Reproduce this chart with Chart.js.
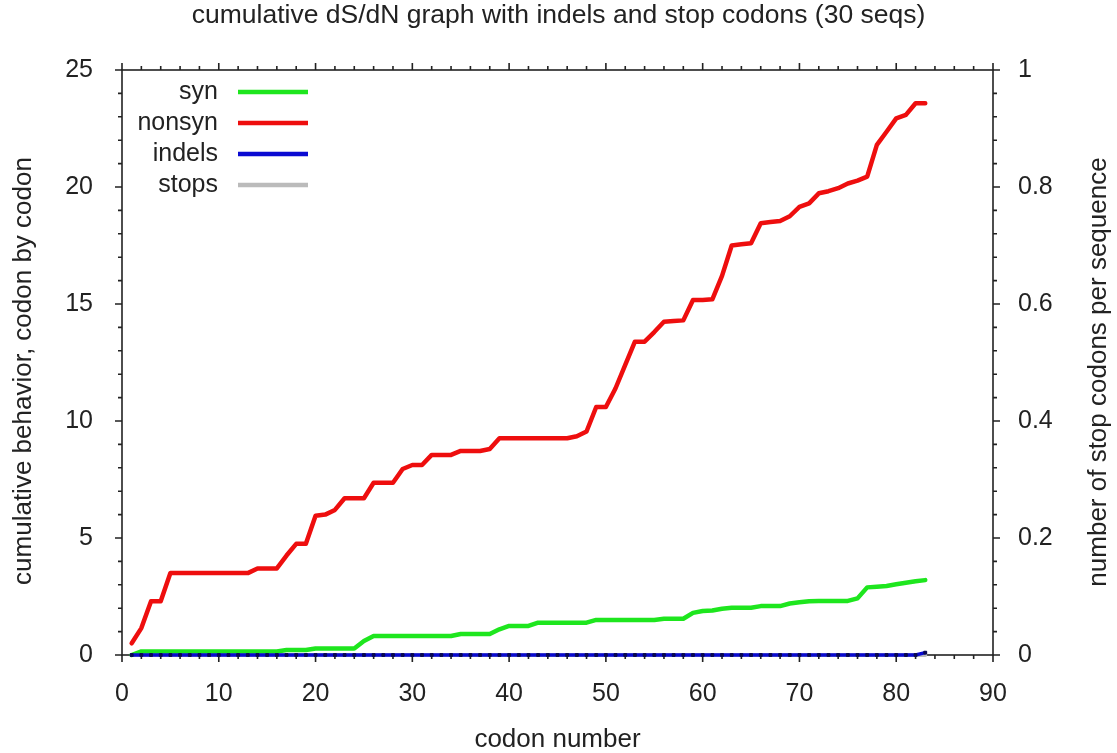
<!DOCTYPE html>
<html lang="en">
<head>
    <script src="https://cdn.jsdelivr.net/npm/chart.js/dist/chart.umd.min.js"></script>
    <style>
        body { margin: 0; background: #fff; }
        #wrap { width: 1117px; height: 753px; }
    </style>
</head>
<body>
<div id="wrap">
    <canvas id="chart"></canvas>
</div>
<script>
    const codons = [];
    for (let i = 1; i <= 83; i++) codons.push(i);

    const nonsyn = [
        0.5, 1.15, 2.3, 2.3, 3.5, 3.5, 3.5, 3.5, 3.5, 3.5,
        3.5, 3.5, 3.5, 3.7, 3.7, 3.7, 4.25, 4.75, 4.75, 5.95,
        6.0, 6.2, 6.7, 6.7, 6.7, 7.36, 7.36, 7.36, 7.95, 8.12,
        8.12, 8.55, 8.55, 8.55, 8.72, 8.72, 8.72, 8.8, 9.26, 9.26,
        9.26, 9.26, 9.26, 9.26, 9.26, 9.26, 9.35, 9.55, 10.6, 10.6,
        11.4, 12.4, 13.39, 13.39, 13.8, 14.24, 14.27, 14.3, 15.17, 15.17,
        15.2, 16.2, 17.5, 17.55, 17.6, 18.45, 18.5, 18.55, 18.75, 19.15,
        19.3, 19.73, 19.82, 19.95, 20.15, 20.27, 20.44, 21.8, 22.36, 22.93,
        23.08, 23.58, 23.58
    ];

    const syn = [
        0, 0.15, 0.15, 0.15, 0.15, 0.15, 0.15, 0.15, 0.15, 0.15,
        0.15, 0.15, 0.15, 0.15, 0.15, 0.15, 0.21, 0.21, 0.21, 0.28,
        0.28, 0.28, 0.28, 0.28, 0.6, 0.81, 0.81, 0.81, 0.81, 0.81,
        0.81, 0.81, 0.81, 0.81, 0.9, 0.9, 0.9, 0.9, 1.1, 1.24,
        1.24, 1.24, 1.38, 1.38, 1.38, 1.38, 1.38, 1.38, 1.5, 1.5,
        1.5, 1.5, 1.5, 1.5, 1.5, 1.55, 1.55, 1.55, 1.8, 1.88,
        1.9, 1.98, 2.02, 2.02, 2.02, 2.09, 2.09, 2.09, 2.2, 2.25,
        2.3, 2.31, 2.31, 2.31, 2.31, 2.42, 2.89, 2.92, 2.95, 3.02,
        3.09, 3.15, 3.2
    ];

    const indels = codons.map(function(c) { return c === 83 ? 0.1 : 0; });
    const stops = codons.map(function() { return 0; });

    const xTicks = [0, 10, 20, 30, 40, 50, 60, 70, 80, 90];
    const yTicks = [0, 5, 10, 15, 20, 25];
    const y2Ticks = [0, 0.2, 0.4, 0.6, 0.8, 1];

    const textColor = '#222';
    const fontFamily = '"Liberation Sans", Arial, sans-serif';

    function points(values) {
        return codons.map(function(c, i) { return {x: c, y: values[i]}; });
    }

    // gnuplot style frame with outward ticks on every side
    const frameTicks = {
        id: 'frameTicks',
        beforeDatasetsDraw(chart) {
            const ctx = chart.ctx, a = chart.chartArea, s = chart.scales;
            ctx.save();
            ctx.strokeStyle = textColor;
            ctx.lineWidth = 1.6;
            ctx.strokeRect(a.left, a.top, a.right - a.left, a.bottom - a.top);
            ctx.beginPath();
            for (let v = 0; v <= 90; v += 2) {
                const x = s.x.getPixelForValue(v);
                const len = v % 10 === 0 ? 7 : 4;
                ctx.moveTo(x, a.bottom); ctx.lineTo(x, a.bottom + len);
                ctx.moveTo(x, a.top); ctx.lineTo(x, a.top - len);
            }
            for (let v = 0; v <= 25; v += 1) {
                const y = s.y.getPixelForValue(v);
                const len = v % 5 === 0 ? 7 : 4;
                ctx.moveTo(a.left, y); ctx.lineTo(a.left - len, y);
            }
            for (let k = 0; k <= 25; k++) {
                const y = s.y2.getPixelForValue(k * 0.04);
                const len = k % 5 === 0 ? 7 : 4;
                ctx.moveTo(a.right, y); ctx.lineTo(a.right + len, y);
            }
            ctx.stroke();
            ctx.restore();
        },
        afterDraw(chart) {
            const ctx = chart.ctx;
            ctx.save();
            ctx.fillStyle = textColor;
            ctx.font = '26px ' + fontFamily;
            ctx.textAlign = 'center';
            ctx.textBaseline = 'middle';
            ctx.translate(24, 371);
            ctx.rotate(-Math.PI / 2);
            ctx.fillText('cumulative behavior, codon by codon', 0, 0);
            ctx.restore();

            ctx.save();
            ctx.fillStyle = textColor;
            ctx.font = '26px ' + fontFamily;
            ctx.textAlign = 'center';
            ctx.textBaseline = 'middle';
            ctx.translate(1099, 372);
            ctx.rotate(-Math.PI / 2);
            ctx.fillText('number of stop codons per sequence', 0, 0);
            ctx.restore();

            // legend: right-aligned label, then a line sample
            ctx.save();
            ctx.font = '25px ' + fontFamily;
            ctx.textAlign = 'right';
            ctx.textBaseline = 'middle';
            chart.data.datasets.forEach(function(ds, i) {
                const y = 92 + i * 31;
                ctx.fillStyle = textColor;
                ctx.fillText(ds.label, 218, y);
                ctx.strokeStyle = ds.borderColor;
                ctx.lineWidth = 4.5;
                ctx.beginPath();
                ctx.moveTo(238, y);
                ctx.lineTo(308, y);
                ctx.stroke();
            });
            ctx.restore();
        }
    };

    const config = {
        type: 'line',
        data: {
            datasets: [
                {label: 'syn', data: points(syn), borderColor: '#1ee61e', borderWidth: 4.5, pointRadius: 0, order: 1, clip: false},
                {label: 'nonsyn', data: points(nonsyn), borderColor: '#ee0e0e', borderWidth: 4.5, pointRadius: 0, order: 2, clip: false},
                {label: 'indels', data: points(indels), borderColor: '#0a0ad2', borderWidth: 3.5, clip: false,
                    pointRadius: 2, pointStyle: 'rect', pointBackgroundColor: '#0a0a50', pointBorderColor: '#0a0a50',
                    pointBorderWidth: 1, order: 0},
                {label: 'stops', data: points(stops), yAxisID: 'y2', borderColor: '#bbbbbb', borderWidth: 4, pointRadius: 0, order: 3, clip: false}
            ]
        },
        options: {
            responsive: true,
            maintainAspectRatio: false,
            animation: false,
            events: [],
            elements: {line: {tension: 0, borderJoinStyle: 'round', borderCapStyle: 'round'}},
            layout: {padding: 0},
            plugins: {
                legend: {display: false},
                tooltip: {enabled: false},
                title: {
                    display: true,
                    text: 'cumulative dS/dN graph with indels and stop codons (30 seqs)',
                    color: textColor,
                    font: {family: fontFamily, size: 26.5, weight: 'normal', lineHeight: 1.2},
                    padding: {top: 0, bottom: 38.2}
                }
            },
            scales: {
                x: {
                    type: 'linear', min: 0, max: 90,
                    afterBuildTicks: function(s) { s.ticks = xTicks.map(function(v) { return {value: v}; }); },
                    afterFit: function(s) { s.height = 98; },
                    grid: {display: false, drawTicks: false},
                    border: {display: false},
                    ticks: {color: textColor, padding: 24, font: {family: fontFamily, size: 25}},
                    title: {display: true, text: 'codon number', color: textColor, padding: 0,
                        font: {family: fontFamily, size: 26, lineHeight: 1}}
                },
                y: {
                    min: 0, max: 25,
                    afterBuildTicks: function(s) { s.ticks = yTicks.map(function(v) { return {value: v}; }); },
                    afterFit: function(s) { s.width = 122; },
                    grid: {display: false, drawTicks: false},
                    border: {display: false},
                    ticks: {color: textColor, padding: 29, font: {family: fontFamily, size: 25}}
                },
                y2: {
                    position: 'right', min: 0, max: 1,
                    afterBuildTicks: function(s) { s.ticks = y2Ticks.map(function(v) { return {value: v}; }); },
                    afterFit: function(s) { s.width = 124; },
                    grid: {display: false, drawTicks: false},
                    border: {display: false},
                    ticks: {color: textColor, padding: 25, font: {family: fontFamily, size: 25},
                        callback: function(v) { return String(Math.round(v * 10) / 10); }}
                }
            }
        },
        plugins: [frameTicks]
    };

    const chart = new Chart(document.getElementById('chart'), config);
</script>
</body>
</html>
